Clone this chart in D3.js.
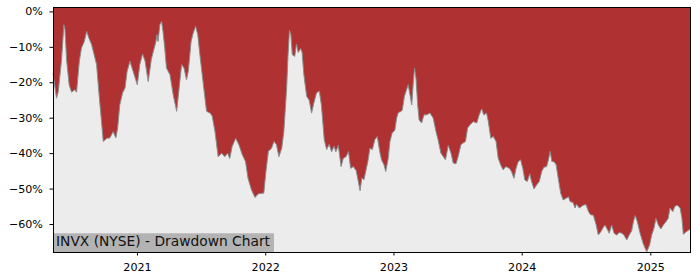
<!DOCTYPE html>
<html>
<head>
<meta charset="utf-8">
<script src="https://cdn.jsdelivr.net/npm/d3@7"></script>
<style>
  body { margin: 0; background: #fff; }
  svg { display: block; font-family: "DejaVu Sans", sans-serif; }
</style>
</head>
<body>
<div id="chart"></div>
<script>
// drawdown from running peak, in percent
const dates = [
  '2020-05-07', '2020-05-17', '2020-05-22', '2020-05-31', '2020-06-07', '2020-06-10', '2020-06-15', '2020-06-22', '2020-06-29', '2020-07-08',
  '2020-07-13', '2020-07-21', '2020-07-27', '2020-08-04', '2020-08-11', '2020-08-17', '2020-08-25', '2020-09-01', '2020-09-08', '2020-09-16',
  '2020-09-22', '2020-09-27', '2020-10-07', '2020-10-16', '2020-10-25', '2020-11-02', '2020-11-07', '2020-11-13', '2020-11-21', '2020-11-28',
  '2020-12-04', '2020-12-12', '2020-12-21',
  '2021-01-02', '2021-01-09', '2021-01-17', '2021-01-24', '2021-02-02', '2021-02-11', '2021-02-24', '2021-02-27', '2021-03-02', '2021-03-07',
  '2021-03-12', '2021-03-16', '2021-03-21', '2021-03-26', '2021-04-05', '2021-04-14', '2021-04-24', '2021-05-01', '2021-05-08', '2021-05-15',
  '2021-05-22', '2021-05-27', '2021-06-04', '2021-06-10', '2021-06-17', '2021-06-23', '2021-06-29', '2021-07-09', '2021-07-18', '2021-07-28',
  '2021-08-03', '2021-08-11', '2021-08-20', '2021-08-30', '2021-09-08', '2021-09-16', '2021-09-22', '2021-09-29', '2021-10-09', '2021-10-18',
  '2021-10-28', '2021-11-06', '2021-11-13', '2021-11-23', '2021-12-03', '2021-12-12', '2021-12-23', '2021-12-28',
  '2022-01-03', '2022-01-10', '2022-01-19', '2022-01-26', '2022-02-02', '2022-02-09', '2022-02-17', '2022-02-23', '2022-03-03', '2022-03-07',
  '2022-03-11', '2022-03-15', '2022-03-19', '2022-03-26', '2022-03-31', '2022-04-05', '2022-04-12', '2022-04-16', '2022-04-21', '2022-04-29',
  '2022-05-06', '2022-05-13', '2022-05-19', '2022-05-27', '2022-06-04', '2022-06-10', '2022-06-18', '2022-06-25', '2022-07-02', '2022-07-09',
  '2022-07-16', '2022-07-21', '2022-07-28', '2022-08-05', '2022-08-11', '2022-08-19', '2022-08-26', '2022-09-01', '2022-09-09', '2022-09-17',
  '2022-09-23', '2022-09-28', '2022-10-03', '2022-10-09', '2022-10-20', '2022-10-26', '2022-11-02', '2022-11-09', '2022-11-16', '2022-11-23',
  '2022-11-28', '2022-12-05', '2022-12-10', '2022-12-17', '2022-12-22', '2022-12-28',
  '2023-01-05', '2023-01-10', '2023-01-15', '2023-01-21', '2023-01-26', '2023-02-01', '2023-02-07', '2023-02-12', '2023-02-17', '2023-02-22',
  '2023-02-26', '2023-03-02', '2023-03-06', '2023-03-11', '2023-03-15', '2023-03-22', '2023-03-29', '2023-04-05', '2023-04-15', '2023-04-24',
  '2023-05-02', '2023-05-08', '2023-05-16', '2023-05-23', '2023-05-29', '2023-06-06', '2023-06-14', '2023-06-20', '2023-06-28', '2023-07-04',
  '2023-07-12', '2023-07-19', '2023-07-25', '2023-07-31', '2023-08-07', '2023-08-16', '2023-08-26', '2023-09-02', '2023-09-09', '2023-09-15',
  '2023-09-23', '2023-09-28', '2023-10-05', '2023-10-12', '2023-10-20', '2023-10-26', '2023-11-02', '2023-11-09', '2023-11-17', '2023-11-27',
  '2023-12-03', '2023-12-10', '2023-12-16', '2023-12-22', '2023-12-29',
  '2024-01-04', '2024-01-10', '2024-01-17', '2024-01-24', '2024-01-29', '2024-02-05', '2024-02-13', '2024-02-20', '2024-02-27', '2024-03-04',
  '2024-03-12', '2024-03-17', '2024-03-22', '2024-03-27', '2024-04-02', '2024-04-08', '2024-04-14', '2024-04-21', '2024-04-28', '2024-05-07',
  '2024-05-13', '2024-05-18', '2024-05-26', '2024-06-01', '2024-06-05', '2024-06-13', '2024-06-24', '2024-07-02', '2024-07-09', '2024-07-15',
  '2024-07-23', '2024-07-31', '2024-08-06', '2024-08-13', '2024-08-20', '2024-08-25', '2024-08-30', '2024-09-06', '2024-09-13', '2024-09-20',
  '2024-09-27', '2024-10-05', '2024-10-12', '2024-10-18', '2024-10-26', '2024-11-02', '2024-11-09', '2024-11-14', '2024-11-19', '2024-11-25',
  '2024-12-03', '2024-12-11', '2024-12-17', '2024-12-22', '2024-12-30',
  '2025-01-05', '2025-01-12', '2025-01-17', '2025-01-24', '2025-01-31', '2025-02-07', '2025-02-15', '2025-02-21', '2025-02-26', '2025-03-06',
  '2025-03-12', '2025-03-19', '2025-03-27', '2025-04-01', '2025-04-05', '2025-04-13', '2025-04-19', '2025-04-24'
]

const drawdown = [
  -17.5, -24.5, -22.6, -14.0, -3.8, -5.0, -14.0, -20.7, -22.8, -22.1,
  -22.8, -14.0, -10.3, -8.5, -5.6, -7.5, -9.4, -12.2, -15.0, -24.5,
  -31.0, -36.7, -35.8, -35.7, -33.9, -35.7, -32.9, -26.4, -23.0, -21.6,
  -16.9, -14.1, -16.9,
  -20.7, -15.0, -12.0, -14.0, -19.8, -13.4, -8.5, -6.6, -8.5, -3.8,
  -2.8, -5.6, -10.3, -16.0, -17.9, -23.5, -28.2, -21.6, -15.0, -16.0,
  -19.3, -16.9, -8.5, -6.1, -4.2, -6.6, -12.2, -20.7, -28.2, -28.7,
  -29.5, -33.9, -41.0, -40.0, -41.0, -40.0, -41.5, -38.1, -35.8, -37.6,
  -40.5, -42.4, -47.1, -50.4, -52.5, -51.5, -51.3, -51.3,
  -45.2, -39.5, -38.6, -36.7, -37.6, -41.0, -38.6, -33.9, -21.6, -12.2,
  -5.4, -6.5, -12.2, -12.7, -9.2, -11.6, -10.5, -11.6, -17.9, -24.0,
  -25.0, -28.7, -26.0, -23.0, -22.5, -26.5, -36.2, -39.0, -37.5, -39.6,
  -38.0, -39.6, -37.8, -43.8, -41.5, -41.0, -39.5, -44.3, -43.8, -45.0,
  -48.0, -50.6, -47.0, -47.5, -42.4, -38.6, -39.0, -36.2, -35.3, -39.6,
  -41.9, -43.3, -45.2, -41.5, -36.7, -34.4,
  -33.5, -30.1, -28.5, -28.3, -27.9, -24.0, -22.2, -20.7, -23.5, -26.4,
  -20.7, -16.0, -18.8, -26.4, -30.6, -31.5, -29.2, -29.2, -28.7, -30.1,
  -33.9, -36.2, -40.0, -41.0, -41.9, -37.8, -40.1, -42.8, -43.0, -41.0,
  -37.6, -37.1, -36.7, -32.9, -32.0, -31.1, -31.5, -29.2, -27.5, -29.2,
  -28.7, -31.1, -35.8, -35.3, -36.7, -41.4, -43.3, -44.7, -43.8, -44.3,
  -45.2, -47.1, -44.3, -42.4, -41.9,
  -44.3, -47.6, -48.0, -45.8, -48.0, -50.1, -48.9, -48.0, -45.2, -44.0,
  -43.8, -41.9, -39.5, -42.4, -42.4, -43.3, -47.1, -51.3, -53.2, -52.7,
  -52.3, -53.7, -53.9, -55.5, -54.4, -55.5, -54.7, -54.5, -56.5, -57.4,
  -57.5, -60.3, -63.1, -62.2, -61.0, -60.3, -61.2, -62.6, -60.3, -62.6,
  -63.1, -62.4, -62.6, -63.1, -64.5, -63.1, -61.9, -59.3, -57.6, -59.3,
  -62.6, -65.3, -66.8, -67.8, -65.9,
  -63.1, -61.0, -58.4, -60.3, -61.4, -60.3, -59.3, -58.4, -55.5, -56.5,
  -55.0, -54.7, -55.5, -58.4, -62.9, -62.2, -61.8, -61.5
]

const yTicks = [0, -10, -20, -30, -40, -50, -60]
const yDomain = [-67.9, 1.24]
const title = 'INVX (NYSE) - Drawdown Chart'

const width = 700
const height = 280
const margin = { top: 7, right: 10, bottom: 28, left: 53 }
const innerW = width - margin.left - margin.right
const innerH = height - margin.top - margin.bottom

const parse = d3.timeParse('%Y-%m-%d')
const data = dates.map((d, i) => ({ date: parse(d), value: drawdown[i] }))

const x = d3.scaleTime()
  .domain(d3.extent(data, d => d.date))
  .range([0, innerW])

const y = d3.scaleLinear()
  .domain(yDomain)
  .range([innerH, 0])

const svg = d3.select('#chart').append('svg')
  .attr('width', width)
  .attr('height', height)

const g = svg.append('g').attr('transform', `translate(${margin.left},${margin.top})`)

// plot background
g.append('rect')
  .attr('width', innerW)
  .attr('height', innerH)
  .attr('fill', '#ececec')

// red area from the top of the axes down to the drawdown curve
const area = d3.area()
  .x(d => x(d.date))
  .y0(0)
  .y1(d => y(d.value))

g.append('path')
  .datum(data)
  .attr('d', area)
  .attr('fill', '#b03131')

const line = d3.line()
  .x(d => x(d.date))
  .y(d => y(d.value))

g.append('path')
  .datum(data)
  .attr('d', line)
  .attr('fill', 'none')
  .attr('stroke', '#8c8c8c')
  .attr('stroke-width', 1)

// y axis
const minus = d => (d < 0 ? '\u2212' : '') + Math.abs(d) + '%'
const yAxis = g.append('g')
  .call(d3.axisLeft(y).tickValues(yTicks).tickSize(3.5).tickPadding(6.6).tickFormat(minus))
yAxis.select('.domain').remove()
yAxis.selectAll('text').attr('font-size', '11.1px').attr('fill', '#000').attr('font-family', 'DejaVu Sans')
yAxis.selectAll('line').attr('stroke', '#000')

// x axis
const xAxis = g.append('g')
  .attr('transform', `translate(0,${innerH})`)
  .call(d3.axisBottom(x).ticks(d3.timeYear.every(1)).tickSize(3.5).tickPadding(7.8).tickFormat(d3.timeFormat('%Y')))
xAxis.select('.domain').remove()
xAxis.selectAll('text').attr('font-size', '11.1px').attr('fill', '#000').attr('font-family', 'DejaVu Sans')
xAxis.selectAll('line').attr('stroke', '#000')

// title box in the lower-left corner
const label = g.append('g')
const box = label.append('rect').attr('fill', '#b3b3b3')
const txt = label.append('text')
  .attr('x', 3)
  .attr('y', innerH - 6)
  .attr('font-size', '13.6px')
  .attr('fill', '#111')
  .text(title)
// scale the font so the label spans the same width as the original
const fitSize = 13.6 * 214 / txt.node().getComputedTextLength()
txt.attr('font-size', fitSize + 'px')
const tw = txt.node().getComputedTextLength()
box.attr('x', 0)
  .attr('y', innerH - 18.7)
  .attr('width', tw + 7)
  .attr('height', 18.7)

// frame
g.append('rect')
  .attr('x', 0.5)
  .attr('y', 0.5)
  .attr('width', innerW)
  .attr('height', innerH)
  .attr('fill', 'none')
  .attr('stroke', '#000')
  .attr('stroke-width', 1)
</script>
</body>
</html>
